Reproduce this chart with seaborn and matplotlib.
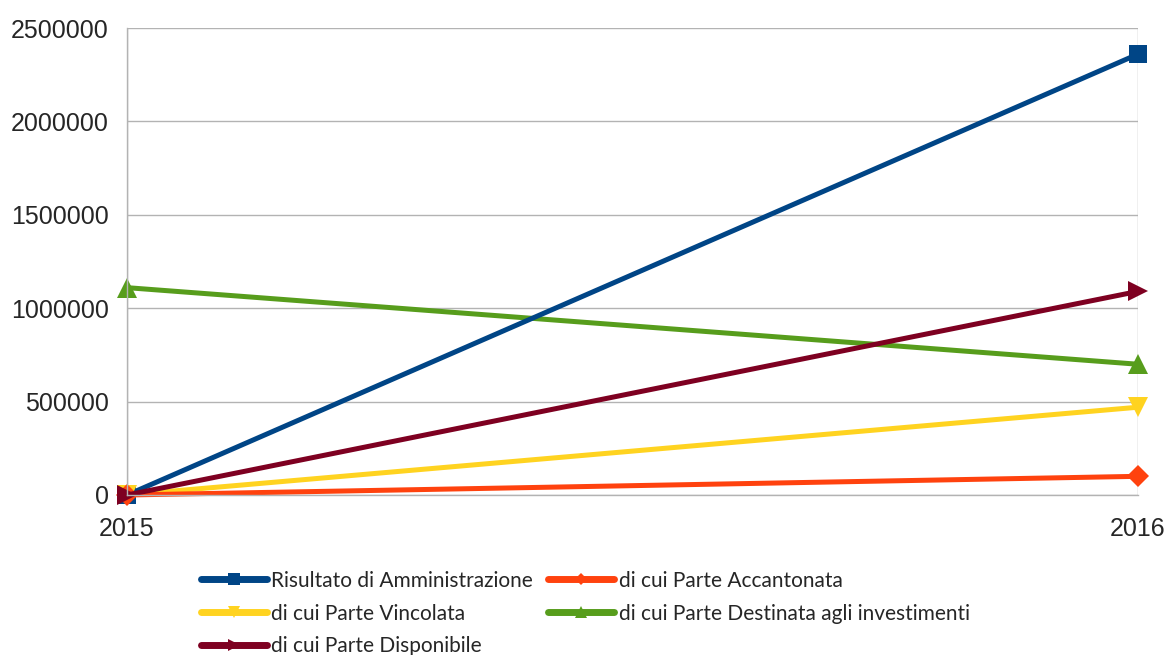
import pandas as pd
import matplotlib.pyplot as plt
import seaborn as sns

# Data
years = [2015, 2016]
risultato = [0, 2360000]
accantonata = [0, 100000]
vincolata = [0, 470000]
investimenti = [1110000, 700000]
disponibile = [0, 1090000]

series_names = [
    'Risultato di Amministrazione',
    'di cui Parte Accantonata',
    'di cui Parte Vincolata',
    'di cui Parte Destinata agli investimenti',
    'di cui Parte Disponibile',
]
series_values = [risultato, accantonata, vincolata, investimenti, disponibile]

rows = []
for name, vals in zip(series_names, series_values):
    for y, v in zip(years, vals):
        rows.append({'Anno': y, 'Valore': v, 'Serie': name})
df = pd.DataFrame(rows)

colors = ['#004586', '#ff420e', '#ffd320', '#579d1c', '#7e0021']
markers = ['s', 'D', 'v', '^', '>']
msizes = [13.5, 11, 14, 14, 14]

sns.set_style('white')
plt.rcParams['font.family'] = ['Liberation Sans', 'DejaVu Sans']

fig = plt.figure(figsize=(11.67, 6.55), dpi=100)
ax = fig.add_axes([127 / 1167, 1 - 495 / 655, (1138 - 127) / 1167, (495 - 28) / 655])

# Draw the green line first, then the others on top as in the reference
order = [3, 0, 2, 1, 4]
handles = {}
for i in order:
    sub = df[df['Serie'] == series_names[i]]
    sns.lineplot(data=sub, x='Anno', y='Valore', ax=ax, color=colors[i],
                 linewidth=3.6, marker=markers[i], markersize=msizes[i],
                 markeredgewidth=0, label=series_names[i], clip_on=False)
    handles[i] = ax.get_lines()[-1]

ax.set_xlim(2015, 2016)
ax.set_ylim(0, 2500000)
ax.set_xticks(years)
ax.set_yticks([0, 500000, 1000000, 1500000, 2000000, 2500000])
ax.set_yticklabels(['0', '500000', '1000000', '1500000', '2000000', '2500000'])
ax.set_xticklabels(['2015', '2016'])
ax.tick_params(axis='both', labelsize=18, length=4, color='#b3b3b3', width=1)
ax.tick_params(axis='y', pad=9)
ax.tick_params(axis='x', pad=12)
ax.set_xlabel('')
ax.set_ylabel('')

ax.grid(True, color='#b3b3b3', linewidth=1)
for s in ['top', 'right']:
    ax.spines[s].set_visible(False)
for s in ['left', 'bottom']:
    ax.spines[s].set_color('#b3b3b3')
    ax.spines[s].set_linewidth(1)
ax.set_axisbelow(True)

# Legend below the plot, two columns in the reference order
leg_order = [0, 2, 4, 1, 3]
leg = ax.legend([handles[i] for i in leg_order], [series_names[i] for i in leg_order],
                ncol=2, loc='upper center', bbox_to_anchor=(585 / 1167, 1 - 556 / 655),
                bbox_transform=fig.transFigure, frameon=False, handlelength=3.2,
                handletextpad=0.2, columnspacing=0.7, labelspacing=0.62,
                markerscale=0.6, borderpad=0.2,
                prop={'family': ['Lato', 'DejaVu Sans'], 'size': 15})
for line in leg.get_lines():
    line.set_linewidth(5)

fig.savefig('out.png', dpi=100)
